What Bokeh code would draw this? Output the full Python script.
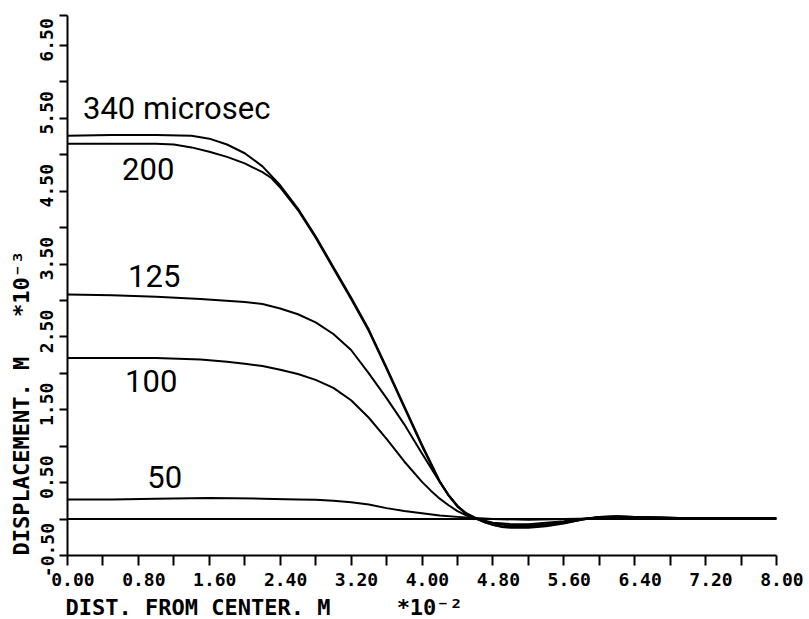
from bokeh.plotting import figure
from bokeh.models import FixedTicker, CustomJSTickFormatter, Title, Range1d
from bokeh.core.properties import value
from bokeh.embed import file_html
from bokeh.resources import INLINE

# ---- data: distance from center (x 1e-2 m) and displacement (x 1e-3 m) ----
x_340 = [0.0, 0.5, 1.0, 1.4, 1.6, 1.8, 2.0, 2.2, 2.4, 2.6, 2.8, 3.0, 3.2, 3.4, 3.6, 3.8, 4.0, 4.2,
         4.3, 4.4, 4.5, 4.6, 4.7, 4.8, 4.9, 5.0, 5.2, 5.4, 5.6, 5.8, 6.0, 6.2, 6.4, 6.7, 7.0, 8.0]
y_340 = [5.26, 5.27, 5.27, 5.26, 5.22, 5.14, 5.02, 4.84, 4.58, 4.26, 3.88, 3.46, 3.04, 2.60, 2.08, 1.55,
         1.02, 0.52, 0.33, 0.18, 0.08, 0.02, -0.04, -0.08, -0.11, -0.12, -0.12, -0.10, -0.06, -0.01,
         0.03, 0.04, 0.03, 0.02, 0.01, 0.01]

x_200 = [0.0, 0.5, 1.0, 1.2, 1.4, 1.6, 1.8, 2.0, 2.1, 2.2, 2.3, 2.4, 2.6, 2.8, 3.0, 3.2, 3.4, 3.6,
         3.8, 4.0, 4.2, 4.3, 4.4, 4.5, 4.6, 4.7, 4.8, 4.9, 5.0, 5.2, 5.4, 5.6, 5.8, 6.0, 6.2, 6.4,
         6.7, 7.0, 8.0]
y_200 = [5.15, 5.15, 5.15, 5.14, 5.10, 5.04, 4.97, 4.88, 4.82, 4.76, 4.68, 4.55, 4.24, 3.86, 3.44,
         3.02, 2.58, 2.06, 1.53, 1.00, 0.51, 0.32, 0.17, 0.07, 0.01, -0.04, -0.08, -0.10, -0.11,
         -0.11, -0.09, -0.05, -0.01, 0.03, 0.04, 0.03, 0.02, 0.01, 0.01]

x_125 = [0.0, 0.5, 1.0, 1.5, 2.0, 2.2, 2.4, 2.6, 2.8, 3.0, 3.2, 3.4, 3.6, 3.8, 4.0, 4.2, 4.3, 4.4,
         4.5, 4.6, 4.7, 4.8, 5.0, 5.2, 5.4, 5.6, 5.8, 6.0, 6.2, 6.5, 7.0, 8.0]
y_125 = [3.08, 3.07, 3.05, 3.02, 2.98, 2.95, 2.89, 2.81, 2.70, 2.54, 2.32, 2.00, 1.66, 1.30, 0.90,
         0.51, 0.33, 0.18, 0.07, 0.01, -0.03, -0.06, -0.09, -0.09, -0.07, -0.04, 0.0, 0.03, 0.03,
         0.02, 0.01, 0.01]

x_100 = [0.0, 0.5, 1.0, 1.5, 1.8, 2.0, 2.2, 2.4, 2.6, 2.8, 3.0, 3.2, 3.4, 3.6, 3.8, 4.0, 4.1, 4.2,
         4.3, 4.4, 4.5, 4.6, 4.7, 4.8, 5.0, 5.2, 5.4, 5.6, 5.8, 6.0, 6.3, 7.0, 8.0]
y_100 = [2.21, 2.21, 2.21, 2.19, 2.16, 2.13, 2.10, 2.05, 1.99, 1.91, 1.80, 1.63, 1.39, 1.10, 0.79,
         0.51, 0.39, 0.28, 0.19, 0.11, 0.05, 0.01, -0.02, -0.05, -0.07, -0.07, -0.05, -0.03, 0.0,
         0.02, 0.02, 0.01, 0.01]

x_50 = [0.0, 0.5, 1.0, 1.6, 2.2, 2.6, 2.8, 3.0, 3.2, 3.4, 3.6, 3.8, 4.0, 4.2, 4.4, 4.6, 4.8, 5.2,
        5.6, 6.1, 8.0]
y_50 = [0.27, 0.27, 0.28, 0.29, 0.28, 0.27, 0.265, 0.25, 0.23, 0.20, 0.15, 0.11, 0.08, 0.05, 0.03,
        0.015, 0.0, -0.01, 0.0, 0.01, 0.0]

x_base = [0.0, 8.0]
y_base = [0.0, 0.0]

curve_labels = ["340 microsec", "200", "125", "100", "50"]
label_x = [0.175, 0.616, 0.684, 0.65, 0.90]
label_y = [5.63, 4.80, 3.34, 1.89, 0.58]

x_major = [0.0, 0.8, 1.6, 2.4, 3.2, 4.0, 4.8, 5.6, 6.4, 7.2, 8.0]
x_minor = [0.4, 1.2, 2.0, 2.8, 3.6, 4.4, 5.2, 6.0, 6.8, 7.6]
y_major = [-0.5, 0.5, 1.5, 2.5, 3.5, 4.5, 5.5, 6.5]
y_minor = [0.0, 1.0, 2.0, 3.0, 4.0, 5.0, 6.0]
x_lo, x_hi = 0.0, 8.0
y_lo, y_hi = -0.5, 6.91

x_title = "DIST. FROM CENTER. M"
x_mult = "*10\u207b\u00b2"
y_title = "DISPLACEMENT. M"
y_mult = "*10\u207b\u00b3"

AX_FONT = "DejaVu Sans Mono"

p = figure(width=809, height=619, x_range=Range1d(x_lo, x_hi), y_range=Range1d(y_lo, y_hi),
           output_backend="svg", toolbar_location=None,
           min_border_left=67, min_border_right=33, min_border_top=15, min_border_bottom=63)
p.grid.visible = False
p.outline_line_color = None
p.background_fill_color = "white"
p.border_fill_color = "white"

fmt = CustomJSTickFormatter(code="return '\\u00a0' + tick.toFixed(2);")

for ax, major, minor, out in ((p.xaxis[0], x_major, x_minor, 10), (p.yaxis[0], y_major, y_minor + [y_hi], 8)):
    ax.ticker = FixedTicker(ticks=major, minor_ticks=minor)
    ax.formatter = fmt
    ax.axis_line_width = 2
    ax.axis_line_color = "black"
    ax.major_tick_line_width = 2
    ax.minor_tick_line_width = 2
    ax.major_tick_line_color = "black"
    ax.minor_tick_line_color = "black"
    ax.major_tick_in = 0
    ax.minor_tick_in = 0
    ax.major_tick_out = out
    ax.minor_tick_out = out
    ax.major_label_text_font = AX_FONT
    ax.major_label_text_font_size = "18px"
    ax.major_label_text_font_style = "bold"
    ax.major_label_text_color = "black"

p.xaxis[0].major_label_standoff = 3
p.yaxis[0].major_label_standoff = 2
p.yaxis[0].major_label_orientation = "parallel"

tx = Title(text=x_title + "\u00a0" * 5 + x_mult, align="left", offset=-2, standoff=0,
           text_font=AX_FONT, text_font_size="22px", text_font_style="bold", text_color="black")
p.add_layout(tx, "below")
ty = Title(text=y_title + "\u00a0" * 3 + y_mult, align="left", offset=0, standoff=0,
           text_font=AX_FONT, text_font_size="22px", text_font_style="bold", text_color="black")
p.add_layout(ty, "left")

for xs, ys in ((x_base, y_base), (x_50, y_50), (x_100, y_100), (x_125, y_125), (x_200, y_200), (x_340, y_340)):
    p.line(xs, ys, line_color="black", line_width=2, line_join="round")

p.text(x=label_x, y=label_y, text=curve_labels, text_font=value("Roboto"), text_font_size="31px",
       text_align="left", text_baseline="alphabetic", text_color="black")

open("out.html", "w").write(file_html(p, INLINE))
